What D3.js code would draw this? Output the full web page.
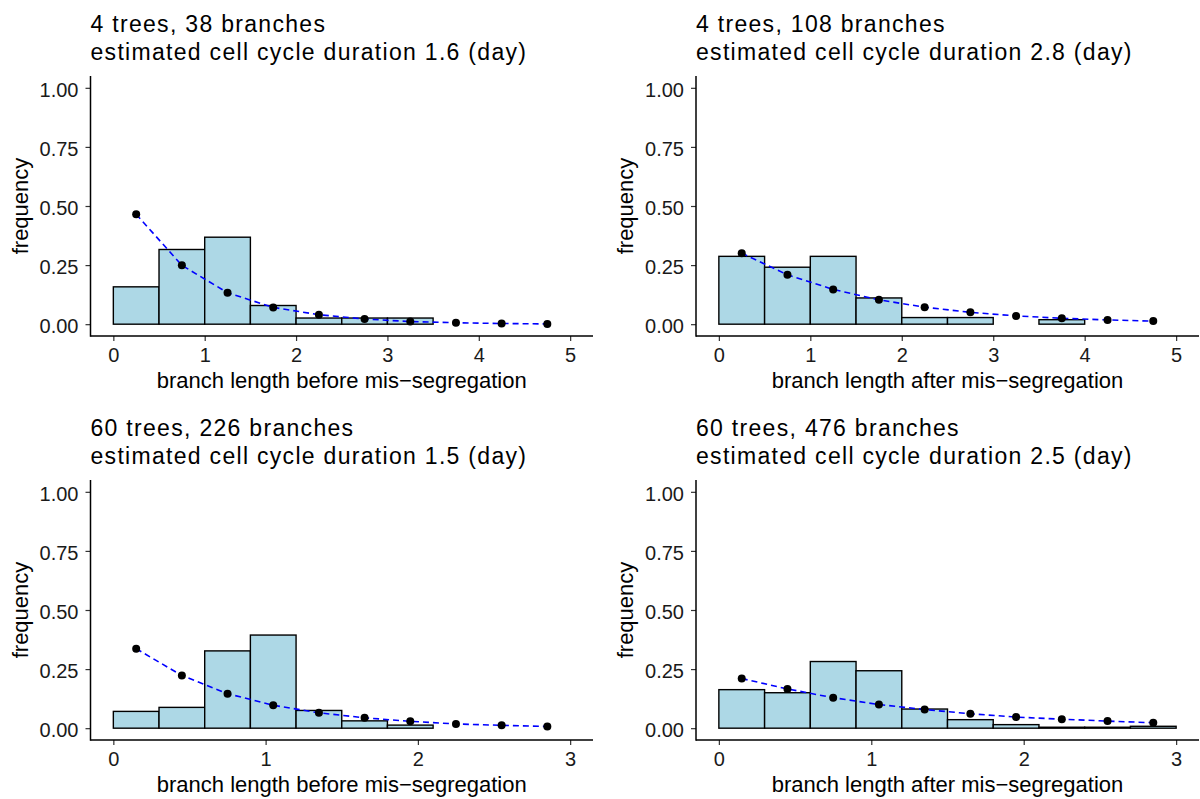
<!DOCTYPE html>
<html>
<head>
<meta charset="utf-8">
<script src="https://cdn.jsdelivr.net/npm/d3@7"></script>
<style>
  body { margin: 0; background: #fff; }
  text { font-family: "Liberation Sans", Arial, sans-serif; }
</style>
</head>
<body>
<div id="chart"></div>
<script>
// panel texts
var titleLine1 = ["4 trees, 38 branches", "4 trees, 108 branches", "60 trees, 226 branches", "60 trees, 476 branches"];
var titleLine2 = [
  "estimated cell cycle duration 1.6 (day)",
  "estimated cell cycle duration 2.8 (day)",
  "estimated cell cycle duration 1.5 (day)",
  "estimated cell cycle duration 2.5 (day)"
];
var xTitles = [
  "branch length before mis\u2212segregation",
  "branch length after mis\u2212segregation",
  "branch length before mis\u2212segregation",
  "branch length after mis\u2212segregation"
];
var binWidths = [0.5, 0.5, 0.3, 0.3];
var xMaxes = [5, 5, 3, 3];
var xTicksTop = [0, 1, 2, 3, 4, 5];
var xTicksBottom = [0, 1, 2, 3];
var yTicks = [0, 0.25, 0.5, 0.75, 1];

// histogram frequencies (bars) and fitted frequencies (points)
var histBeforeFew = [0.158, 0.316, 0.368, 0.079, 0.026, 0.026, 0.026, 0, 0, 0];
var fitBeforeFew = [0.465, 0.249, 0.133, 0.071, 0.040, 0.022, 0.011, 0.006, 0.003, 0.001];
var histAfterFew = [0.287, 0.241, 0.287, 0.111, 0.028, 0.028, 0, 0.019, 0, 0];
var fitAfterFew = [0.300, 0.209, 0.147, 0.103, 0.072, 0.050, 0.035, 0.025, 0.018, 0.013];
var histBeforeMany = [0.071, 0.088, 0.327, 0.394, 0.075, 0.031, 0.013, 0, 0, 0];
var fitBeforeMany = [0.336, 0.223, 0.146, 0.097, 0.065, 0.044, 0.029, 0.018, 0.012, 0.007];
var histAfterMany = [0.163, 0.150, 0.282, 0.243, 0.081, 0.036, 0.015, 0.004, 0.004, 0.008];
var fitAfterMany = [0.210, 0.166, 0.129, 0.100, 0.079, 0.061, 0.047, 0.038, 0.030, 0.023];

var hists = [histBeforeFew, histAfterFew, histBeforeMany, histAfterMany];
var fits = [fitBeforeFew, fitAfterFew, fitBeforeMany, fitAfterMany];

var W = 1200, H = 799;
var svg = d3.select("#chart").append("svg")
  .attr("width", W)
  .attr("height", H);

// panel boxes (left, top, right, bottom of plotting area)
var boxes = [
  {l: 90.5, t: 76, r: 593, b: 336},
  {l: 696, t: 76, r: 1199, b: 336},
  {l: 90.5, t: 480, r: 593, b: 740},
  {l: 696, t: 480, r: 1199, b: 740}
];

boxes.forEach(function(box, i) {
  var g = svg.append("g");
  var bw = binWidths[i];
  var xMax = xMaxes[i];
  var pad = xMax * 0.05;

  var x = d3.scaleLinear().domain([-pad, xMax + pad]).range([box.l, box.r]);
  var y = d3.scaleLinear().domain([-0.05, 1.05]).range([box.b, box.t]);

  // titles
  g.append("text")
    .attr("x", box.l).attr("y", box.t - 44.5)
    .attr("font-size", 23).attr("letter-spacing", 1.3).attr("fill", "#000")
    .text(titleLine1[i]);
  g.append("text")
    .attr("x", box.l).attr("y", box.t - 16.5)
    .attr("font-size", 23).attr("letter-spacing", 1.3).attr("fill", "#000")
    .text(titleLine2[i]);

  // histogram bars
  g.selectAll("rect.bar")
    .data(hists[i])
    .enter().append("rect")
    .attr("class", "bar")
    .attr("x", function(d, j) { return x(j * bw); })
    .attr("width", function(d, j) { return x((j + 1) * bw) - x(j * bw); })
    .attr("y", function(d) { return y(d); })
    .attr("height", function(d) { return y(0) - y(d); })
    .attr("fill", "#ADD8E6")
    .attr("stroke", "#000")
    .attr("stroke-width", 1.4);

  // fitted curve
  var line = d3.line()
    .x(function(d, j) { return x((j + 0.5) * bw); })
    .y(function(d) { return y(d); });
  g.append("path")
    .datum(fits[i])
    .attr("d", line)
    .attr("fill", "none")
    .attr("stroke", "#0000FF")
    .attr("stroke-width", 1.6)
    .attr("stroke-dasharray", "6,4");

  g.selectAll("circle.pt")
    .data(fits[i])
    .enter().append("circle")
    .attr("class", "pt")
    .attr("cx", function(d, j) { return x((j + 0.5) * bw); })
    .attr("cy", function(d) { return y(d); })
    .attr("r", 4)
    .attr("fill", "#000");

  // axes
  var xAxis = d3.axisBottom(x)
    .tickValues(xMax === 5 ? xTicksTop : xTicksBottom)
    .tickFormat(d3.format("d"))
    .tickSize(5).tickPadding(7);
  var gx = g.append("g")
    .attr("transform", "translate(0," + box.b + ")")
    .call(xAxis);

  var yAxis = d3.axisLeft(y)
    .tickValues(yTicks)
    .tickFormat(d3.format(".2f"))
    .tickSize(5).tickPadding(7);
  var gy = g.append("g")
    .attr("transform", "translate(" + box.l + ",0)")
    .call(yAxis);

  [gx, gy].forEach(function(a) {
    a.select(".domain").remove();
    a.selectAll(".tick line").attr("stroke", "#333").attr("stroke-width", 1.2);
    a.selectAll(".tick text")
      .attr("font-size", 20).attr("fill", "#1a1a1a")
      .attr("font-family", "Liberation Sans, Arial, sans-serif");
  });
  gy.selectAll(".tick text").attr("dy", "0.42em");

  // axis lines
  g.append("line")
    .attr("x1", box.l).attr("x2", box.r)
    .attr("y1", box.b).attr("y2", box.b)
    .attr("stroke", "#000").attr("stroke-width", 1.5);
  g.append("line")
    .attr("x1", box.l).attr("x2", box.l)
    .attr("y1", box.t).attr("y2", box.b + 0.75)
    .attr("stroke", "#000").attr("stroke-width", 1.5);

  // axis titles
  g.append("text")
    .attr("x", (box.l + box.r) / 2).attr("y", box.b + 52)
    .attr("text-anchor", "middle")
    .attr("font-size", 22).attr("fill", "#000")
    .text(xTitles[i]);
  g.append("text")
    .attr("transform", "translate(" + (box.l - 63) + "," + ((box.t + box.b) / 2) + ") rotate(-90)")
    .attr("text-anchor", "middle")
    .attr("font-size", 22).attr("fill", "#000")
    .text("frequency");
});
</script>
</body>
</html>
